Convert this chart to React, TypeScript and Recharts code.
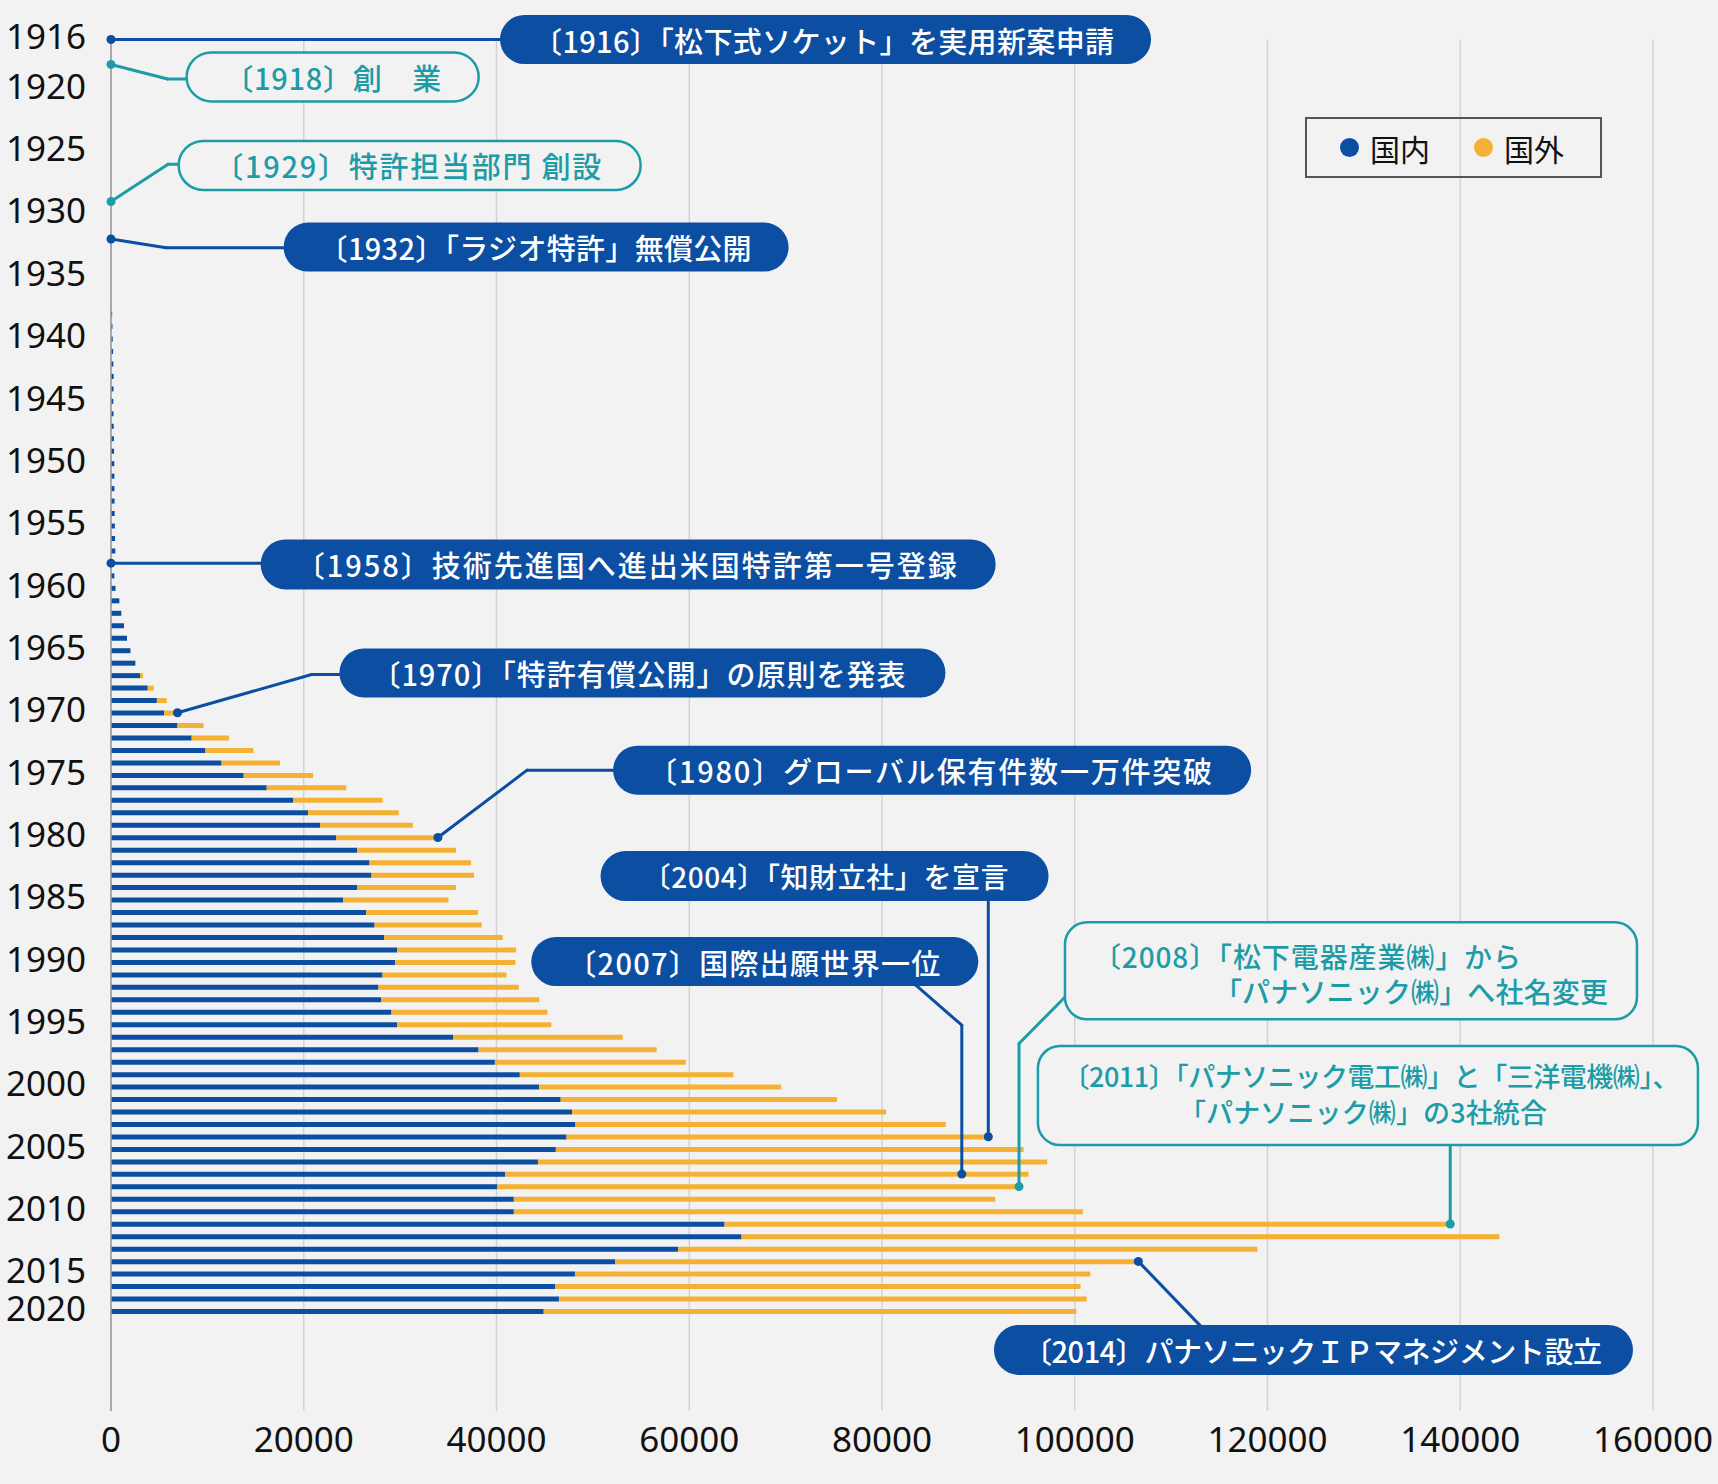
import React from "react"
import { BarChart, Bar, XAxis, YAxis, CartesianGrid, ReferenceDot, ReferenceLine, Legend } from "recharts"

const BLUE = "#0b4ea2"
const ORANGE = "#f5b133"
const TEAL = "#1d9ca7"
const BG = "#f2f2f2"
const JP = "'Noto Sans CJK JP', 'Noto Sans', sans-serif"

// rows: one per year, 1938 - 2018
const years = Array.from({ length: 81 }, (_, i) => 1938 + i)

// 国内 (domestic)
const domestic = [
  120, 150, 180, 220, 250, 280, 260, 240, 260, 280, 300, 320, 340, 350, 360, 370, 380, 400, 420, 450,
  350, 350, 470, 870, 1070, 1350, 1660, 2020, 2530, 3010, 3810, 4760, 5510, 6900, 8370, 9800, 11470,
  13770, 16160, 18890, 20440, 21710, 23380, 25560, 26830, 27030, 25560, 24090, 26480, 27350, 28340,
  29690, 29490, 28180, 27750, 28020, 29100, 29690, 35530, 38140, 39830, 42420, 44430, 46660, 47830,
  48190, 47270, 46160, 44300, 40880, 40090, 41800, 41800, 63660, 65420, 58850, 52310, 48140, 46110,
  46480, 44900,
]

// 国外 (foreign)
const foreign = [
  0, 0, 0, 0, 0, 0, 0, 0, 0, 0, 0, 0, 0, 0, 0, 0, 0, 0, 0, 0,
  0, 0, 0, 0, 0, 0, 0, 0, 0, 320, 630, 1030, 1080, 2700, 3890, 4970, 6070,
  7190, 8250, 9290, 9410, 9610, 10320, 10240, 10520, 10640, 10240, 10920, 11590, 11110, 12310,
  12350, 12470, 12860, 14570, 16420, 16180, 16000, 17570, 18480, 19810, 22160, 25110, 28670, 32600,
  38420, 43560, 48530, 52840, 54320, 53950, 49950, 59040, 75370, 78640, 60100, 54140, 53480, 54490,
  54770, 55260,
]

const xTicks = [0, 20000, 40000, 60000, 80000, 100000, 120000, 140000, 160000]
const yTickYears = [1916, 1920, 1925, 1930, 1935, 1940, 1945, 1950, 1955, 1960, 1965, 1970, 1975, 1980, 1985, 1990, 1995, 2000, 2005, 2010, 2015, 2018]
const yTickLabels = ["1916", "1920", "1925", "1930", "1935", "1940", "1945", "1950", "1955", "1960", "1965", "1970", "1975", "1980", "1985", "1990", "1995", "2000", "2005", "2010", "2015", "2020"]

const data = years.map((year, i) => ({ year, domestic: domestic[i], foreign: foreign[i] }))

// events: year, value where the dot sits
const eventYears = [1916, 1918, 1929, 1932, 1958, 1970, 1980, 2004, 2007, 2008, 2011, 2014]
const eventValues = [0, 0, 0, 0, 0, 6900, 33920, 91030, 88280, 94220, 138960, 106600]
const eventTexts = [
  ["〔1916〕「松下式ソケット」を実用新案申請"],
  ["〔1918〕創　業"],
  ["〔1929〕特許担当部門 創設"],
  ["〔1932〕「ラジオ特許」無償公開"],
  ["〔1958〕技術先進国へ進出米国特許第一号登録"],
  ["〔1970〕「特許有償公開」の原則を発表"],
  ["〔1980〕グローバル保有件数一万件突破"],
  ["〔2004〕「知財立社」を宣言"],
  ["〔2007〕国際出願世界一位"],
  ["〔2008〕「松下電器産業㈱」から", "「パナソニック㈱」へ社名変更"],
  ["〔2011〕「パナソニック電工㈱」と「三洋電機㈱」、", "「パナソニック㈱」の3社統合"],
  ["〔2014〕パナソニックＩＰマネジメント設立"],
]

// callout layout (data units: x = count, y = year)
type Line = { dx: number; dy: number; len: number }
type Layout = {
  kind: "solid" | "outline"
  x: number
  y: number
  w: number
  h: number
  r?: number
  fs: number
  lines: Line[]
  path: [number, number][]
}

const layouts: Layout[] = [
  { kind: "solid", x: 74140, y: 1916, w: 651, h: 49, fs: 29, lines: [{ dx: -2, dy: 0, len: 581 }], path: [[0, 1916], [45000, 1916]] },
  { kind: "outline", x: 23000, y: 1919.0, w: 292, h: 49, fs: 29, lines: [{ dx: 0, dy: 0, len: 217 }], path: [[0, 1918], [5875, 1919.17], [9000, 1919.17]] },
  { kind: "outline", x: 30990, y: 1926.1, w: 462, h: 49, fs: 29, lines: [{ dx: -2, dy: 0, len: 387 }], path: [[0, 1929], [5916, 1926.0], [9000, 1926.0]] },
  { kind: "solid", x: 44110, y: 1932.65, w: 505, h: 49, fs: 29, lines: [{ dx: -1, dy: 0, len: 433 }], path: [[0, 1932], [5719, 1932.7], [20000, 1932.7]] },
  { kind: "solid", x: 53660, y: 1958.1, w: 735, h: 50, fs: 29, lines: [{ dx: -2, dy: 0, len: 661 }], path: [[0, 1958], [18000, 1958]] },
  { kind: "solid", x: 55140, y: 1966.8, w: 606, h: 49, fs: 29, lines: [{ dx: -4, dy: 0, len: 534 }], path: [[6900, 1970], [20820, 1966.93], [26000, 1966.93]] },
  { kind: "solid", x: 85200, y: 1974.6, w: 638, h: 49, fs: 29, lines: [{ dx: -2, dy: 0, len: 564 }], path: [[33920, 1980], [43170, 1974.6], [55000, 1974.6]] },
  { kind: "solid", x: 74040, y: 1983.1, w: 448, h: 50, fs: 28, lines: [{ dx: 1, dy: 0, len: 366 }], path: [[91030, 2004], [91030, 1984]] },
  { kind: "solid", x: 66800, y: 1989.95, w: 447, h: 49, fs: 29, lines: [{ dx: -1, dy: 0, len: 373 }], path: [[88280, 2007], [88280, 1995.06], [83510, 1991.85], [80000, 1990]] },
  { kind: "outline", x: 128660, y: 1990.7, w: 572, h: 97, r: 22, fs: 28, lines: [{ dx: -44, dy: -15, len: 428 }, { dx: 60, dy: 20, len: 394 }], path: [[94220, 2008], [94220, 1996.53], [98970, 1992.81]] },
  { kind: "outline", x: 130420, y: 2000.7, w: 660, h: 99, r: 22, fs: 27, lines: [{ dx: 3, dy: -20, len: 617 }, { dx: -5, dy: 16, len: 368 }], path: [[138960, 2011], [138960, 2004.0]] },
  { kind: "solid", x: 124770, y: 2021.1, w: 639, h: 50, fs: 29, lines: [{ dx: -1, dy: 0, len: 579 }], path: [[106600, 2014], [112990, 2019.13], [114000, 2020]] },
]

const pillShape = (lay: Layout, texts: string[]) => (props: any) => {
  const { cx, cy } = props
  const solid = lay.kind === "solid"
  return (
    <g>
      <rect
        x={cx - lay.w / 2}
        y={cy - lay.h / 2}
        width={lay.w}
        height={lay.h}
        rx={lay.r ?? lay.h / 2}
        fill={solid ? BLUE : BG}
        stroke={solid ? "none" : TEAL}
        strokeWidth={2.5}
      />
      {texts.map((t, i) => (
        <text
          key={i}
          x={cx + lay.lines[i].dx}
          y={cy + lay.lines[i].dy}
          textAnchor="middle"
          dominantBaseline="central"
          fontSize={lay.fs}
          fontWeight={500}
          fontFamily={JP}
          fill={solid ? "#ffffff" : TEAL}
          textLength={lay.lines[i].len}
          lengthAdjust="spacing"
        >
          {t}
        </text>
      ))}
    </g>
  )
}

const renderLegend = (props: any) => (
  <div
    style={{
      boxSizing: "border-box",
      width: 297,
      height: 61,
      border: "2px solid #555",
      display: "flex",
      alignItems: "center",
      paddingLeft: 33,
      fontFamily: JP,
      fontSize: 30,
      lineHeight: "30px",
      color: "#111",
      whiteSpace: "nowrap",
    }}
  >
    {(props.payload || []).map((e: any, i: number) => (
      <div key={i} style={{ display: "flex", alignItems: "center", flexShrink: 0, marginLeft: i === 0 ? 0 : 44 }}>
        <span style={{ display: "inline-block", flexShrink: 0, width: 19, height: 19, borderRadius: "50%", background: e.color, marginRight: 11 }} />
        <span>{e.value}</span>
      </div>
    ))}
  </div>
)

export default function App() {
  return (
    <div style={{ position: "absolute", left: 0, top: 0, width: 1718, height: 1484, background: BG }}>
      <BarChart
        width={1718}
        height={1484}
        data={data}
        layout="vertical"
        margin={{ top: 39.5, right: 65, bottom: 13, left: 0 }}
        style={{ fontFamily: JP }}
      >
        <CartesianGrid horizontal={false} stroke="#d3d3d3" strokeWidth={1.5} />
        <XAxis
          type="number"
          domain={[0, 160000]}
          ticks={xTicks}
          interval={0}
          axisLine={false}
          tickLine={false}
          tickSize={0}
          tickMargin={16}
          height={60}
          tick={{ fill: "#111", fontSize: 35, fontFamily: "'Noto Sans', sans-serif" }}
        />
        <YAxis
          type="number"
          dataKey="year"
          domain={[1916, 2026]}
          ticks={yTickYears}
          interval={0}
          tickFormatter={(v: number) => yTickLabels[yTickYears.indexOf(v)] ?? String(v)}
          width={111}
          axisLine={{ stroke: "#9a9a9a", strokeWidth: 1.5 }}
          tickLine={false}
          tickSize={0}
          tickMargin={25}
          tick={{ fill: "#111", fontSize: 35, fontFamily: "'Noto Sans', sans-serif", dy: -3 }}
        />
        <Bar dataKey="domestic" name="国内" stackId="a" fill={BLUE} barSize={5} isAnimationActive={false} />
        <Bar dataKey="foreign" name="国外" stackId="a" fill={ORANGE} barSize={5} isAnimationActive={false} />

        {layouts.map((lay, k) =>
          lay.path.slice(1).map((p, j) => (
            <ReferenceLine
              key={`seg-${k}-${j}`}
              segment={[
                { x: lay.path[j][0], y: lay.path[j][1] },
                { x: p[0], y: p[1] },
              ]}
              stroke={lay.kind === "solid" ? BLUE : TEAL}
              strokeWidth={3}
              strokeLinecap="round"
              ifOverflow="visible"
            />
          ))
        )}
        {eventYears.map((y, k) => (
          <ReferenceDot
            key={`dot-${k}`}
            x={eventValues[k]}
            y={y}
            r={4.5}
            fill={layouts[k].kind === "solid" ? BLUE : TEAL}
            stroke="none"
            ifOverflow="visible"
          />
        ))}
        {layouts.map((lay, k) => (
          <ReferenceDot
            key={`pill-${k}`}
            x={lay.x}
            y={lay.y}
            r={1}
            ifOverflow="visible"
            shape={pillShape(lay, eventTexts[k])}
          />
        ))}
        <Legend
          layout="horizontal"
          verticalAlign="middle"
          align="center"
          wrapperStyle={{ left: 1305, top: 117, width: 297, height: 61 }}
          content={renderLegend}
        />
      </BarChart>
    </div>
  )
}
